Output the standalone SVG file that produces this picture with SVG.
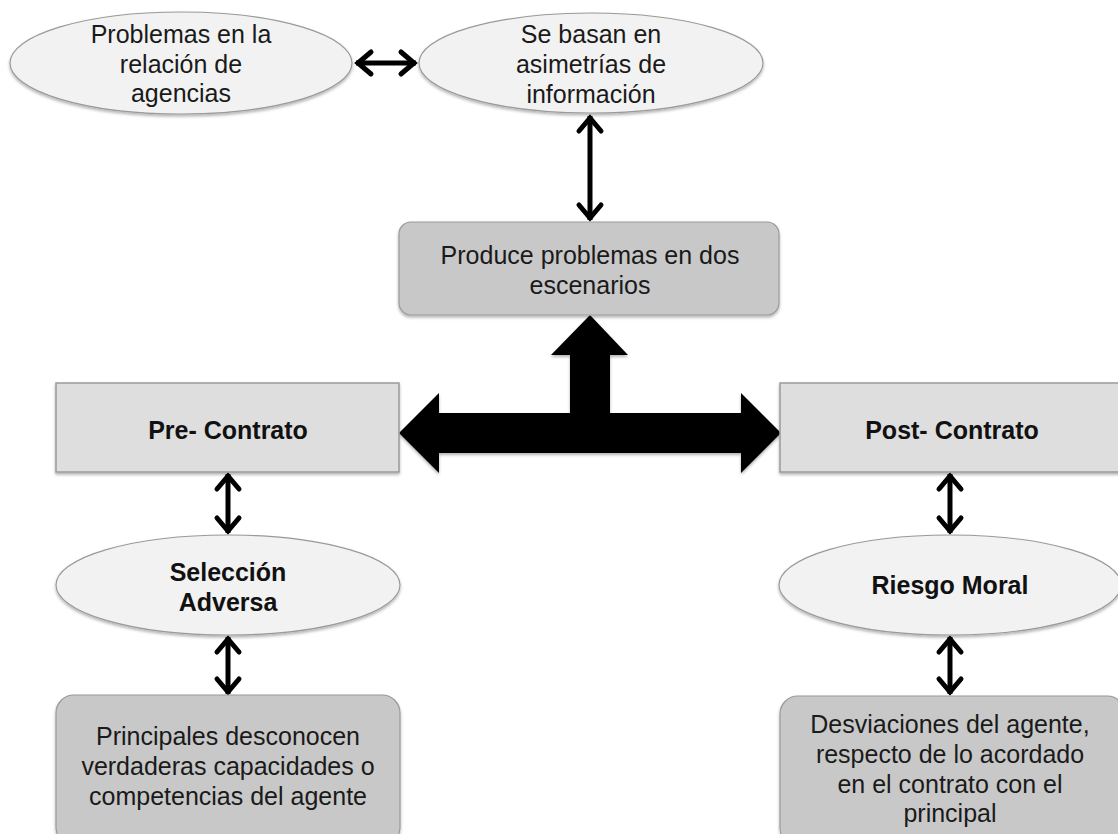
<svg xmlns="http://www.w3.org/2000/svg" width="1118" height="834" viewBox="0 0 1118 834">
  <defs>
    <filter id="shadow" x="-10%" y="-10%" width="120%" height="130%">
      <feDropShadow dx="0" dy="2" stdDeviation="1.5" flood-color="#000" flood-opacity="0.3"/>
    </filter>
    <marker id="chev" markerUnits="userSpaceOnUse" markerWidth="40" markerHeight="40" refX="0" refY="0" viewBox="-20 -20 40 40" orient="auto-start-reverse" overflow="visible">
      <path d="M -15 -11 L -2 0 L -15 11" fill="none" stroke="#000" stroke-width="5" stroke-linecap="round" stroke-linejoin="miter"/>
    </marker>
  </defs>
  <style>
    .oval { fill: #f2f2f2; stroke: #9a9a9a; stroke-width: 1.2; filter: url(#shadow); }
    .flat { fill: #dedede; stroke: #9a9a9a; stroke-width: 1.5; filter: url(#shadow); }
    .dark { fill: #c8c8c8; stroke: #9a9a9a; stroke-width: 1.2; filter: url(#shadow); }
    text { font-family: "Liberation Sans", Arial, sans-serif; font-size: 25px; fill: #1a1a1a; text-anchor: middle; }
    .b { font-weight: bold; fill: #111; }
  </style>
  <rect width="1118" height="834" fill="#fff"/>

  <!-- two-way links: straight strokes with open chevron ends -->
  <g id="connectors" stroke="#000" stroke-width="5" fill="none" marker-start="url(#chev)" marker-end="url(#chev)">
    <line x1="356" y1="63" x2="416" y2="63"/>
    <line x1="590" y1="116" x2="590" y2="220"/>
    <line x1="228" y1="474" x2="228" y2="533"/>
    <line x1="228" y1="637" x2="228" y2="694"/>
    <line x1="950" y1="474" x2="950" y2="533"/>
    <line x1="950" y1="637" x2="950" y2="694"/>
  </g>

  <!-- three-way block arrow -->
  <polygon id="big-arrow" fill="#000" filter="url(#shadow)" points="399,433 439,393 439,413 570,413 570,355 551,355 590,315 628,355 610,355 610,413 741,413 741,393 781,433 741,473 741,453 439,453 439,473"/>

  <g id="n-problemas">
    <ellipse class="oval" cx="181" cy="63" rx="171" ry="51"/>
    <text x="181" y="43">Problemas en la</text>
    <text x="181" y="73">relación de</text>
    <text x="181" y="102">agencias</text>
  </g>

  <g id="n-asimetrias">
    <ellipse class="oval" cx="591" cy="63" rx="172" ry="50"/>
    <text x="591" y="43">Se basan en</text>
    <text x="591" y="73">asimetrías de</text>
    <text x="591" y="103">información</text>
  </g>

  <g id="n-produce">
    <rect class="dark" x="399" y="222" width="380" height="93" rx="12"/>
    <text x="590" y="264">Produce problemas en dos</text>
    <text x="590" y="294">escenarios</text>
  </g>

  <g id="n-pre">
    <rect class="flat" x="56" y="383" width="343" height="89"/>
    <text class="b" x="228" y="439">Pre- Contrato</text>
  </g>

  <g id="n-post">
    <rect class="flat" x="780" y="383" width="345" height="89"/>
    <text class="b" x="952" y="439">Post- Contrato</text>
  </g>

  <g id="n-seleccion">
    <ellipse class="oval" cx="228" cy="585" rx="172" ry="50"/>
    <text class="b" x="228" y="581">Selección</text>
    <text class="b" x="228" y="611">Adversa</text>
  </g>

  <g id="n-riesgo">
    <ellipse class="oval" cx="950" cy="585" rx="171" ry="50"/>
    <text class="b" x="950" y="594">Riesgo Moral</text>
  </g>

  <g id="n-principales">
    <rect class="dark" x="56" y="695" width="344" height="150" rx="18"/>
    <text x="228" y="745">Principales desconocen</text>
    <text x="228" y="775">verdaderas capacidades o</text>
    <text x="228" y="805">competencias del agente</text>
  </g>

  <g id="n-desviaciones">
    <rect class="dark" x="780" y="696" width="345" height="150" rx="18"/>
    <text x="950" y="733">Desviaciones del agente,</text>
    <text x="950" y="763">respecto de lo acordado</text>
    <text x="950" y="793">en el contrato con el</text>
    <text x="950" y="822">principal</text>
  </g>
</svg>
